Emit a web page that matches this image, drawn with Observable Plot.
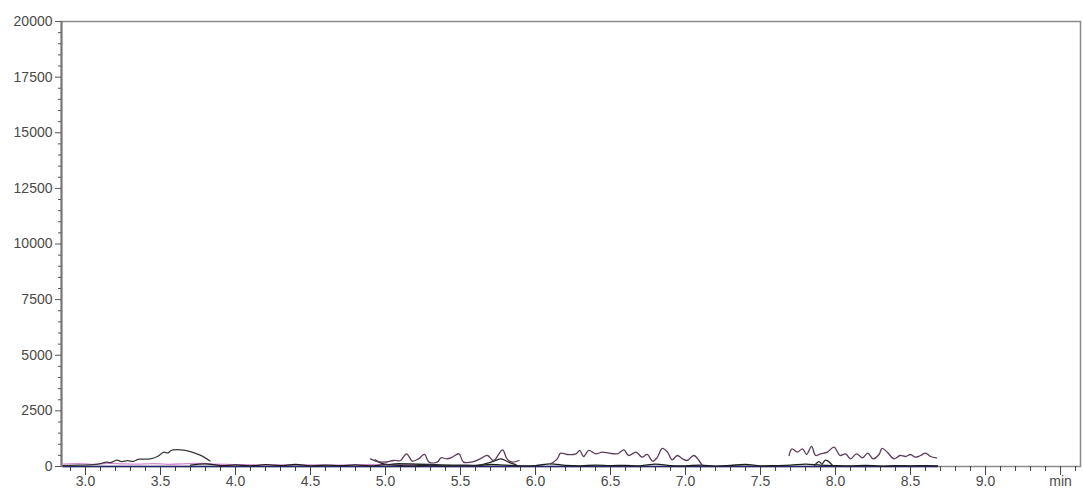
<!DOCTYPE html>
<html>
<head>
<meta charset="utf-8">
<script src="https://cdn.jsdelivr.net/npm/d3@7"></script>
<script src="https://cdn.jsdelivr.net/npm/@observablehq/plot@0.6"></script>
<style>
  body { margin: 0; background: #fff; }
  #chart svg { display: block; }
</style>
</head>
<body>
<div id="chart"></div>
<script>
// ---- Tick values ----
const yMajorTicks = [0, 2500, 5000, 7500, 10000, 12500, 15000, 17500, 20000];
const yMinorTicks = [500, 1000, 1500, 2000, 3000, 3500, 4000, 4500, 5500, 6000, 6500, 7000, 8000, 8500, 9000, 9500,
  10500, 11000, 11500, 12000, 13000, 13500, 14000, 14500, 15500, 16000, 16500, 17000, 18000, 18500, 19000, 19500];
const xMajorTicks = [3.0, 3.5, 4.0, 4.5, 5.0, 5.5, 6.0, 6.5, 7.0, 7.5, 8.0, 8.5, 9.0, 9.5];
const xMajorLabels = ["3.0", "3.5", "4.0", "4.5", "5.0", "5.5", "6.0", "6.5", "7.0", "7.5", "8.0", "8.5", "9.0", "min"];
const xMinorTicks = [2.9, 3.1, 3.2, 3.3, 3.4, 3.6, 3.7, 3.8, 3.9, 4.1, 4.2, 4.3, 4.4, 4.6, 4.7, 4.8, 4.9,
  5.1, 5.2, 5.3, 5.4, 5.6, 5.7, 5.8, 5.9, 6.1, 6.2, 6.3, 6.4, 6.6, 6.7, 6.8, 6.9, 7.1, 7.2, 7.3, 7.4,
  7.6, 7.7, 7.8, 7.9, 8.1, 8.2, 8.3, 8.4, 8.6, 8.7, 8.8, 8.9, 9.1, 9.2, 9.3, 9.4, 9.6];

// ---- Series (time in min, intensity) ----
const baselineTime = [2.85, 8.68];
const baselineSignal = [0, 0];

const pinkTime = [2.85, 2.95, 3.05, 3.15, 3.25, 3.35, 3.45, 3.55, 3.65, 3.75, 3.85, 3.95, 4.05, 4.2, 4.4, 4.6, 4.8, 5.0, 5.2];
const pinkSignal = [110, 130, 100, 140, 120, 110, 130, 100, 120, 140, 110, 90, 80, 70, 80, 60, 70, 90, 60];

const peak1Time = [2.85, 2.95, 3.05, 3.10, 3.14, 3.17, 3.21, 3.24, 3.28, 3.32, 3.35, 3.37, 3.43, 3.48, 3.52, 3.55, 3.57, 3.61, 3.65, 3.68, 3.72, 3.76, 3.79, 3.83];
const peak1Signal = [40, 60, 80, 130, 200, 180, 290, 220, 260, 230, 320, 330, 340, 450, 640, 610, 720, 760, 740, 700, 620, 520, 420, 250];

const noiseTime = [3.70, 3.80, 3.90, 4.00, 4.10, 4.20, 4.30, 4.40, 4.50, 4.60, 4.70, 4.80, 4.90, 5.00, 5.10, 5.20, 5.30, 5.40, 5.50,
  5.60, 5.70, 5.80, 5.90, 6.00, 6.10, 6.20, 6.30, 6.40, 6.50, 6.60, 6.70, 6.80, 6.90, 7.00, 7.10, 7.20, 7.30, 7.40, 7.50,
  7.60, 7.70, 7.80, 7.90, 8.00, 8.10, 8.20, 8.30, 8.40, 8.50, 8.60, 8.68];
const noiseSignal = [60, 120, 40, 70, 30, 80, 40, 90, 30, 60, 40, 70, 30, 80, 40, 30, 60, 20, 50,
  40, 90, 60, 30, 40, 120, 50, 30, 60, 40, 50, 30, 110, 40, 30, 60, 20, 50, 90, 30,
  40, 60, 110, 60, 40, 30, 50, 20, 40, 30, 40, 30];

const peak2Time = [4.90, 4.945, 4.99, 5.055, 5.10, 5.14, 5.18, 5.22, 5.26, 5.29, 5.345, 5.37, 5.41, 5.445, 5.49, 5.52, 5.59, 5.63, 5.68, 5.72, 5.78, 5.81, 5.845, 5.89];
const peak2Signal = [345, 225, 195, 270, 270, 570, 240, 345, 540, 195, 195, 390, 345, 420, 570, 195, 225, 345, 495, 270, 750, 345, 195, 270];

const small1Time = [4.93, 4.97, 5.02, 5.06, 5.62, 5.68, 5.73, 5.77, 5.82, 5.87];
const small1Signal = [300, 150, 80, 120, 60, 150, 260, 340, 200, 80];

const peak3Time = [6.10, 6.145, 6.167, 6.21, 6.27, 6.295, 6.32, 6.355, 6.40, 6.445, 6.49, 6.545, 6.59, 6.62, 6.67, 6.71, 6.745, 6.78, 6.81, 6.845, 6.88, 6.91, 6.945, 6.98, 7.01, 7.055, 7.09, 7.11];
const peak3Signal = [120, 345, 600, 540, 570, 720, 450, 720, 570, 645, 600, 570, 750, 495, 645, 420, 540, 240, 390, 810, 645, 300, 495, 345, 270, 495, 270, 60];

const peak4Time = [7.69, 7.71, 7.745, 7.78, 7.807, 7.84, 7.867, 7.90, 7.945, 7.99, 8.03, 8.067, 8.10, 8.14, 8.18, 8.215, 8.25, 8.29, 8.31, 8.345, 8.39, 8.43, 8.467, 8.50, 8.53, 8.567, 8.60, 8.633, 8.673];
const peak4Signal = [495, 795, 645, 795, 540, 900, 495, 570, 645, 870, 495, 570, 345, 570, 390, 600, 345, 540, 810, 645, 345, 495, 450, 540, 420, 495, 600, 450, 390];

const small2Time = [7.86, 7.89, 7.91, 7.93, 7.95, 7.98];
const small2Signal = [50, 220, 110, 280, 240, 50];

// ---- Build table ----
function build(name, t, v) { return t.map((time, i) => ({series: name, time, signal: v[i]})); }
const rows = [
  ...build("baseline", baselineTime, baselineSignal),
  ...build("pink", pinkTime, pinkSignal),
  ...build("noise", noiseTime, noiseSignal),
  ...build("peak1", peak1Time, peak1Signal),
  ...build("small1", small1Time, small1Signal),
  ...build("small2", small2Time, small2Signal),
  ...build("peak2", peak2Time, peak2Signal),
  ...build("peak3", peak3Time, peak3Signal),
  ...build("peak4", peak4Time, peak4Signal)
];
const seriesNames = ["baseline", "pink", "noise", "peak1", "small1", "small2", "peak2", "peak3", "peak4"];
const seriesColors = ["#27276e", "#d68cd6", "#1e1e1e", "#3a3a3a", "#2a2a2a", "#2a2a2a", "#5d3d5b", "#5d3d5b", "#5d3d5b"];

const chart = Plot.plot({
  width: 1083,
  height: 491,
  marginLeft: 61,
  marginTop: 21,
  marginRight: 3,
  marginBottom: 25,
  x: {domain: [2.84, 9.633], label: null},
  y: {domain: [0, 20000], label: null},
  color: {domain: seriesNames, range: seriesColors},
  style: {fontFamily: "'Liberation Sans', Arial, sans-serif", fontSize: "14px", color: "#4a4a4a", background: "#fff"},
  marks: [
    Plot.frame({stroke: "#8a8a8a", strokeWidth: 1.5}),
    Plot.ruleX([2.84], {stroke: "#777", strokeWidth: 2}),
    Plot.axisY(yMinorTicks, {tickSize: 3, tickFormat: () => "", stroke: "#555", label: null}),
    Plot.axisY(yMajorTicks, {tickSize: 6, tickPadding: 3, tickFormat: d => String(d), stroke: "#555", label: null, style: "letter-spacing:0.4px"}),
    Plot.axisX(xMinorTicks, {tickSize: 5, tickFormat: () => "", stroke: "#444", label: null}),
    Plot.axisX(xMajorTicks, {tickSize: 9, tickPadding: 1, tickFormat: d => xMajorLabels[xMajorTicks.indexOf(d)], stroke: "#444", label: null, style: "letter-spacing:0.3px"}),
    Plot.line(rows, {x: "time", y: "signal", z: "series", stroke: "series", strokeWidth: 1.3, curve: "catmull-rom"})
  ]
});
document.getElementById("chart").appendChild(chart);
</script>
</body>
</html>
